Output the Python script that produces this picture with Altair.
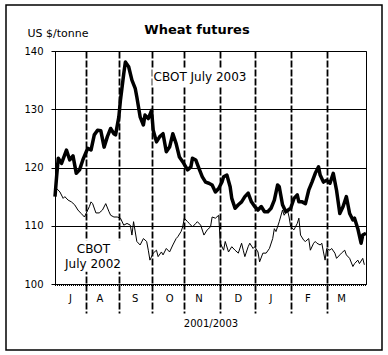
import altair as alt
import pandas as pd

# ---- data ----
days_2003 = [0, 1, 2, 4, 7, 9, 11, 13, 15, 17, 20, 22, 24, 26, 28, 30, 32, 34, 36, 37, 39, 40, 42, 43, 45, 47, 49, 50,
             52, 54, 55, 57, 59, 60, 62, 64, 66, 68, 70, 72, 74, 76, 78, 81, 83, 84, 86, 88, 90, 92, 94, 96, 98, 100,
             102, 103, 105, 107, 108, 110, 112, 114, 116, 118, 120, 122, 124, 126, 128, 130, 132, 134, 136, 137, 139,
             141, 144, 146, 148, 149, 151, 153, 155, 157, 159, 161, 162, 164, 166, 168, 170, 172, 174, 176, 178, 180,
             182, 183, 185, 187, 188, 190]
vals_2003 = [115.0, 118.5, 121.6, 120.7, 123.0, 121.3, 122.0, 119.0, 119.6, 121.3, 123.3, 123.0, 125.6, 126.4, 126.3,
             123.5, 125.3, 126.7, 125.8, 125.6, 128.7, 131.6, 136.1, 138.1, 137.3, 135.0, 133.6, 132.1, 128.7, 127.3,
             129.0, 128.4, 129.8, 126.4, 124.4, 125.3, 125.8, 122.7, 123.5, 125.8, 124.1, 121.8, 121.0, 119.6, 120.1,
             121.6, 121.3, 119.8, 118.4, 117.5, 117.3, 117.0, 115.8, 116.4, 117.5, 118.4, 118.7, 116.7, 114.7, 113.0,
             113.6, 114.1, 115.0, 115.6, 114.1, 113.3, 112.7, 113.3, 112.4, 112.4, 113.0, 114.4, 117.0, 116.7, 113.6,
             112.4, 113.0, 114.7, 115.3, 114.1, 114.1, 113.8, 116.1, 117.5, 119.0, 120.1, 118.7, 117.5, 117.8, 117.3,
             119.0, 116.1, 112.1, 113.3, 115.0, 112.1, 111.0, 111.3, 109.5, 107.0, 108.4, 108.7]

days_2002 = [1, 3, 5, 6, 8, 10, 12, 14, 16, 18, 19, 21, 22, 23, 25, 27, 29, 31, 33, 34, 36, 38, 40, 42, 44, 46, 47, 48,
             50, 52, 54, 56, 57, 58, 60, 62, 63, 65, 66, 68, 70, 72, 74, 75, 77, 78, 79, 81, 82, 84, 86, 87, 89, 91, 93,
             95, 96, 98, 100, 101, 103, 104, 106, 108, 110, 112, 114, 115, 116, 118, 119, 121, 122, 124, 125, 127, 129,
             131, 133, 134, 135, 137, 139, 140, 142, 143, 144, 146, 148, 149, 150, 152, 153, 155, 156, 158, 159, 160,
             162, 163, 164, 165, 166, 168, 169, 171, 172, 174, 175, 177, 178, 180, 182, 183, 185, 186, 188, 189]
vals_2002 = [116.4, 115.8, 114.7, 115.0, 114.4, 114.1, 113.6, 112.7, 112.1, 111.5, 112.1, 113.3, 114.1, 113.8, 112.2,
             112.2, 112.7, 113.8, 112.4, 111.8, 111.5, 111.5, 111.3, 110.1, 110.4, 110.1, 108.4, 110.7, 107.3, 106.7,
             107.8, 107.3, 105.8, 104.1, 105.3, 105.8, 104.7, 105.5, 105.0, 106.1, 105.5, 106.7, 107.8, 108.1, 109.0,
             109.8, 111.3, 110.7, 110.4, 109.8, 110.4, 110.7, 110.1, 108.4, 109.3, 109.8, 111.5, 111.3, 111.8, 107.0,
             105.8, 107.3, 105.5, 106.4, 105.8, 105.3, 107.0, 105.8, 104.7, 106.4, 107.0, 106.1, 106.4, 105.5, 103.8,
             105.3, 105.3, 106.1, 107.8, 109.5, 109.0, 110.7, 112.7, 111.8, 112.7, 111.5, 109.8, 109.3, 110.4, 111.3,
             108.4, 107.5, 107.3, 107.8, 105.8, 107.0, 107.3, 107.0, 106.7, 107.0, 105.5, 104.1, 106.1, 105.8, 106.1,
             105.3, 104.4, 105.0, 105.3, 105.8, 105.0, 104.4, 103.0, 103.5, 104.1, 103.5, 104.4, 103.3]

month_bounds = [19, 39, 59, 79, 101, 122, 144, 166]
month_labels = ["J", "A", "S", "O", "N", "D", "J", "F", "M"]
month_label_pos = [9.5, 27.5, 49, 70, 88, 112, 132, 154.5, 175]
y_ticks = [100, 110, 120, 130, 140]

label_texts = ["CBOT July 2003", "CBOT", "July 2002"]
label_x = [88.6, 23.5, 23.2]
label_y = [135.5, 106.0, 103.4]

box_x = [59.5, 5.0]
box_x2 = [120.0, 41.5]
box_y = [133.8, 102.1]
box_y2 = [137.0, 107.5]

chart_title = "Wheat futures"

W, H = 311, 233
FONT = "DejaVu Sans"

df03 = pd.DataFrame({"day": days_2003, "price": vals_2003})
df02 = pd.DataFrame({"day": days_2002, "price": vals_2002})
dfm = pd.DataFrame({"day": month_label_pos, "m": month_labels})
dft = pd.DataFrame({"day": label_x, "price": label_y, "t": label_texts})
dfb = pd.DataFrame({"day": box_x, "day2": box_x2, "price": box_y, "price2": box_y2})
dfr = pd.DataFrame({"day": [0], "day2": [190], "price": [100]})

xs = alt.Scale(domain=[0, 190], nice=False, zero=False)
ys = alt.Scale(domain=[100, 140], nice=False, zero=False)

x_axis = alt.Axis(values=month_bounds, labels=False, grid=True, gridDash=[7, 2], gridColor="black",
                  gridWidth=1.8, gridOpacity=1, ticks=True, tickSize=29, tickDash=[7, 2], tickColor="black",
                  tickWidth=1.8, domain=True, domainColor="black", domainWidth=1,
                  title="2001/2003", titleFont=FONT, titleFontSize=10, titleFontWeight="normal",
                  titlePadding=5, titleColor="black")
y_axis = alt.Axis(values=y_ticks, grid=True, gridColor="black", gridWidth=1, gridOpacity=1,
                  tickSize=4, tickColor="black", labelPadding=8, labelFont=FONT, labelFontSize=10,
                  labelColor="black", domainColor="black", title="US $/tonne", titleAngle=0,
                  titleAlign="left", titleBaseline="middle", titleX=-28, titleY=-18, titleFont=FONT,
                  titleFontSize=11, titleFontWeight="normal", titleColor="black")

X = alt.X("day:Q", scale=xs, axis=x_axis)
Y = alt.Y("price:Q", scale=ys, axis=y_axis)

thin = alt.Chart(df02).mark_line(color="black", strokeWidth=1).encode(x=X, y=Y)
boxes = alt.Chart(dfb).mark_rect(fill="white").encode(x=X, x2="day2:Q", y=Y, y2="price2:Q")
thick = alt.Chart(df03).mark_line(color="black", strokeWidth=3.5, strokeJoin="round").encode(x=X, y=Y)
hatch = alt.Chart(dfr).mark_rule(color="black", strokeDash=[1, 1], strokeWidth=2, yOffset=1).encode(
    x=X, x2="day2:Q", y=Y)
texts = alt.Chart(dft).mark_text(font=FONT, fontSize=12, color="black", baseline="middle").encode(
    x=X, y=Y, text="t:N")
months = alt.Chart(dfm).mark_text(font=FONT, fontSize=10, color="black", baseline="middle").encode(
    x=X, y=alt.value(H + 15), text="m:N")
title_mark = alt.Chart(pd.DataFrame({"t": [chart_title]})).mark_text(
    font=FONT, fontSize=13, fontWeight="bold", color="black", baseline="alphabetic", align="center"
).encode(x=alt.value(142), y=alt.value(-17), text="t:N")
frame = alt.Chart(pd.DataFrame({"a": [0]})).mark_rect(filled=False, stroke="black", strokeWidth=1.5).encode(
    x=alt.value(-49), x2=alt.value(327), y=alt.value(-46), y2=alt.value(299)
)

chart = alt.layer(thin, boxes, thick, hatch, texts, months, title_mark, frame).properties(
    width=W, height=H,
    padding={"left": 55, "top": 51, "right": 22, "bottom": 71},
    autosize=alt.AutoSizeParams(type="none"),
    background="white",
).configure_view(stroke="black", strokeWidth=1)

chart.save("out.html", embed_options={"renderer": "svg", "actions": False})
